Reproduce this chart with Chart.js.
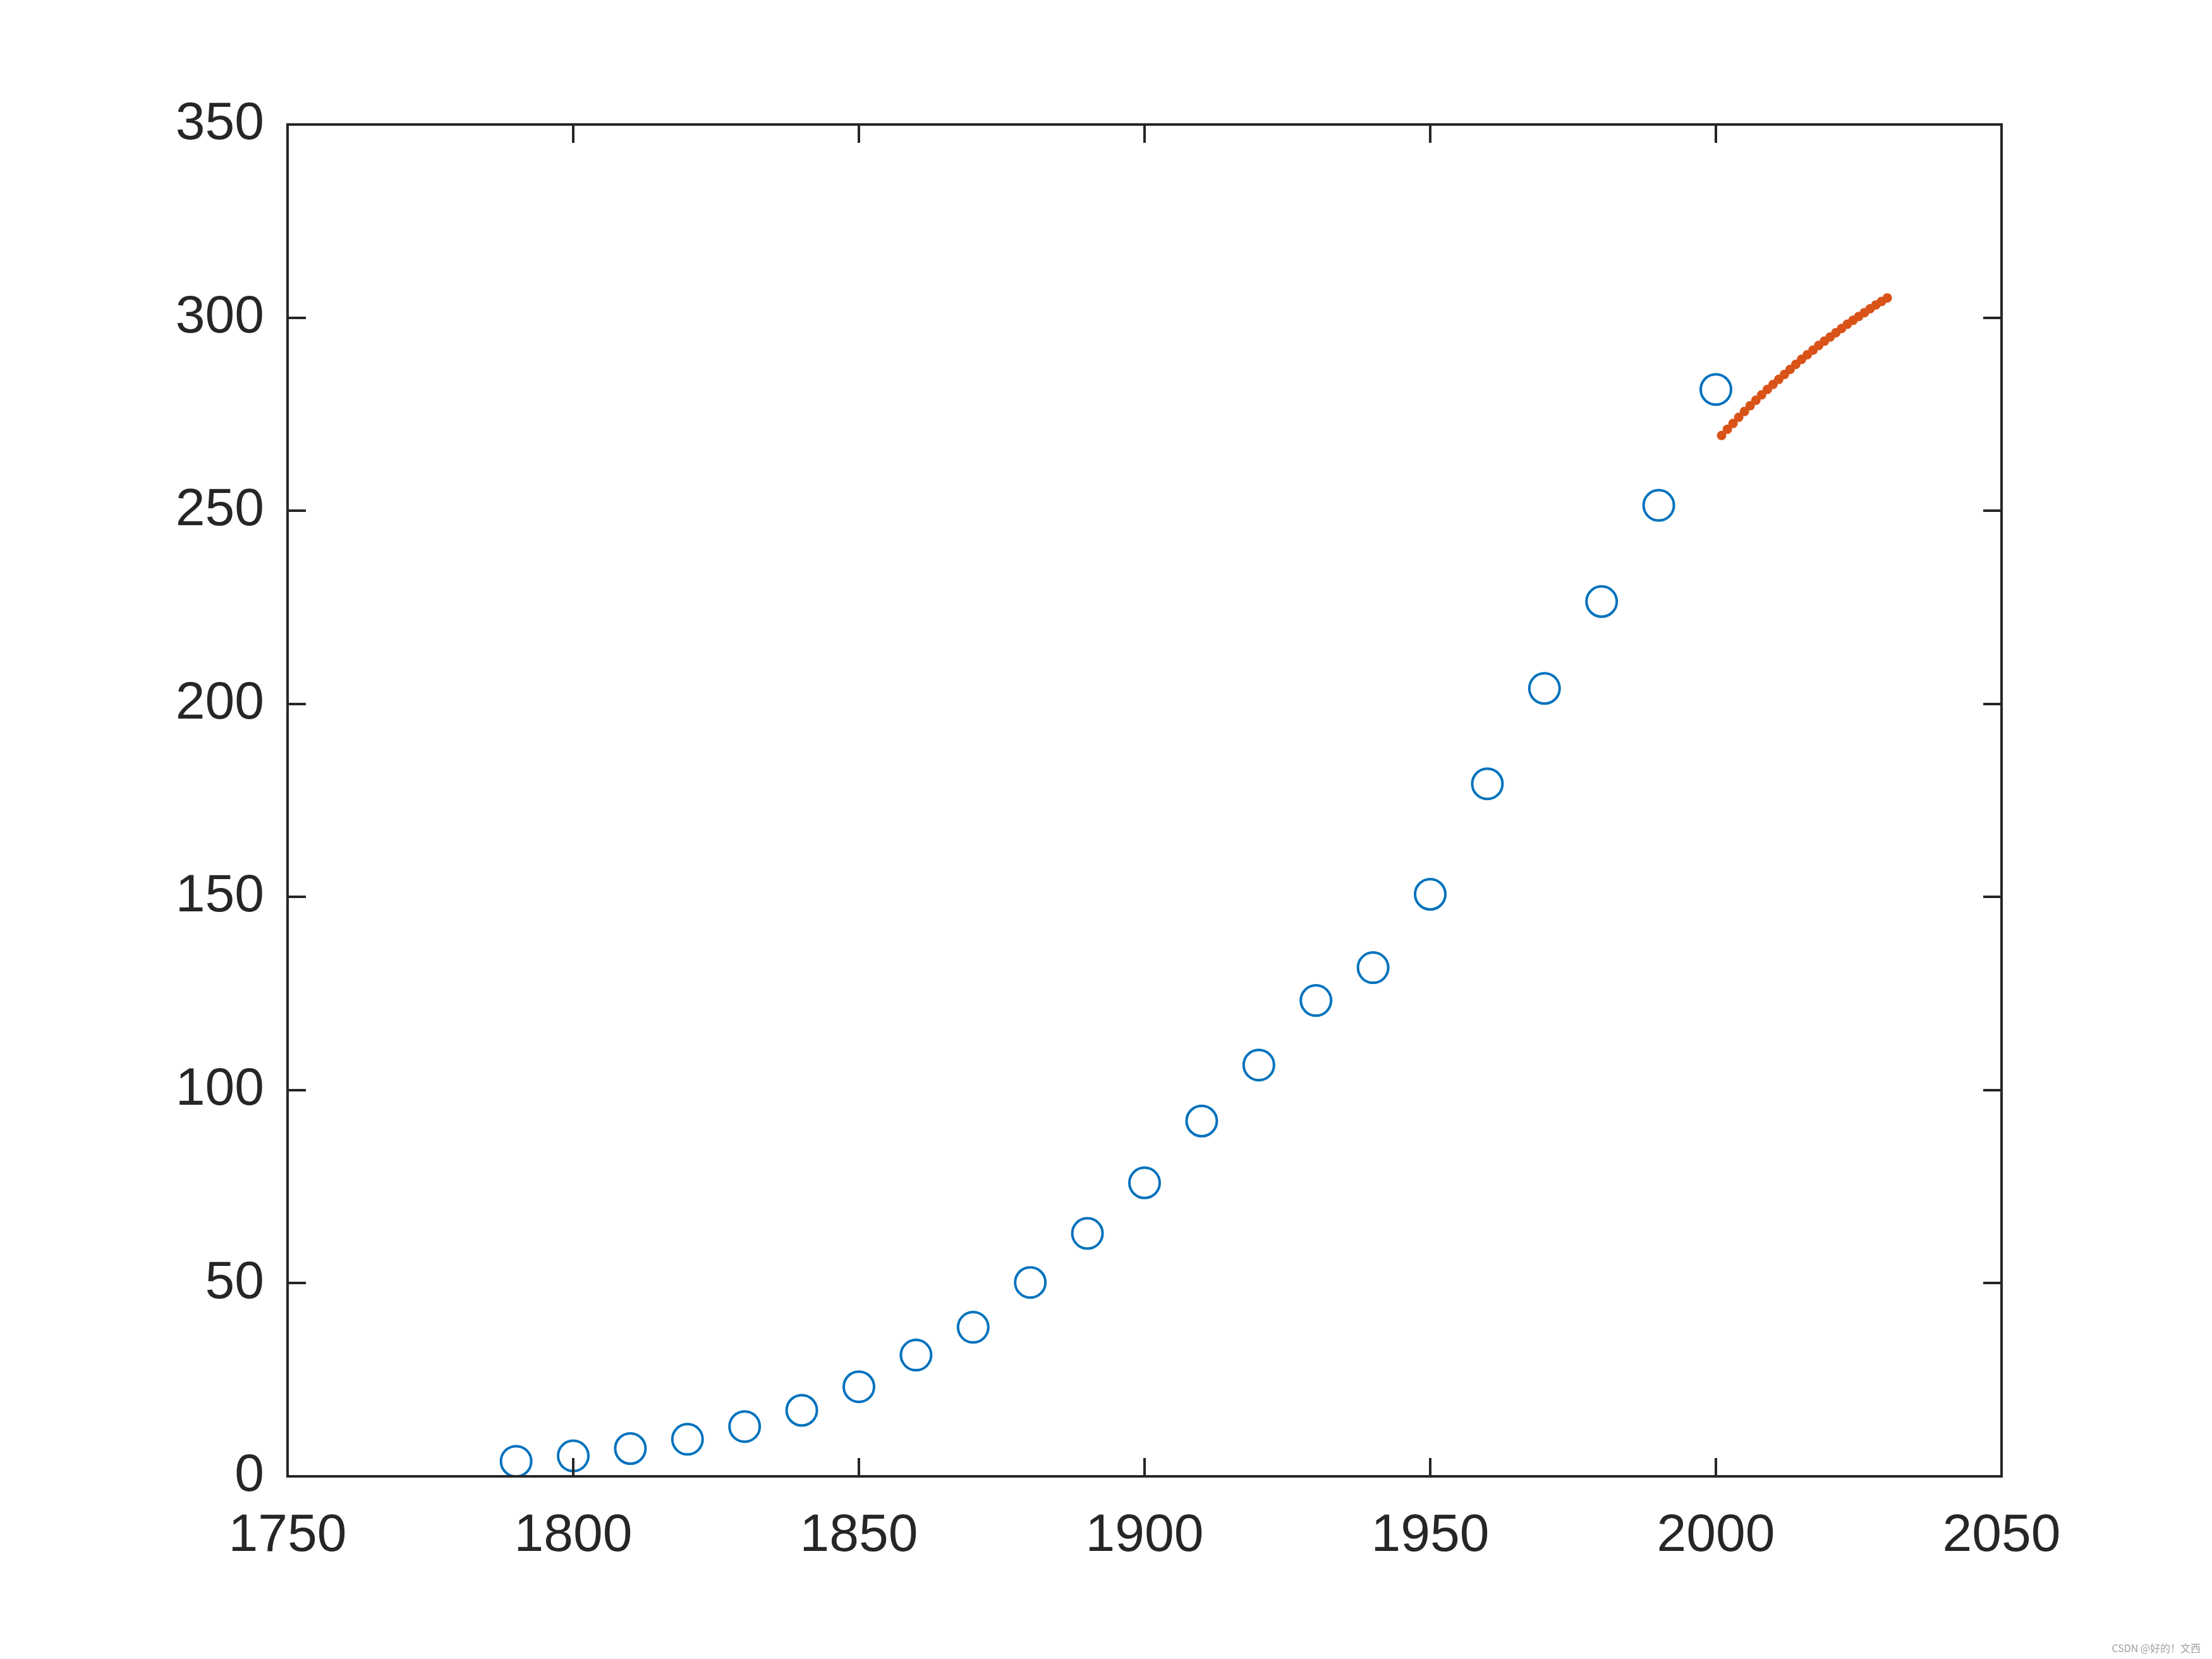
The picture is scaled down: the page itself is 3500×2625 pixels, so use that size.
<!DOCTYPE html>
<html>
<head>
<meta charset="utf-8">
<script src="https://cdn.jsdelivr.net/npm/chart.js@4"></script>
<style>
  html, body { margin: 0; padding: 0; background: #fff; }
  #wrap { position: relative; width: 3500px; height: 2625px; }
  #chart { display: block; }
  #mark {
    position: absolute; right: 18px; bottom: 6px;
    font: 16px "Noto Sans CJK SC", "Liberation Sans", sans-serif;
    color: #a0a0a0;
  }
</style>
</head>
<body>
<div id="wrap">
  <canvas id="chart" width="3500" height="2625"></canvas>
  <div id="mark">CSDN @好的！文西</div>
</div>
<script>
// --- Data ---
const censusYears = [1790, 1800, 1810, 1820, 1830, 1840, 1850, 1860, 1870, 1880, 1890,
  1900, 1910, 1920, 1930, 1940, 1950, 1960, 1970, 1980, 1990, 2000];
const population = [3.9, 5.3, 7.2, 9.6, 12.9, 17.1, 23.2, 31.4, 38.6, 50.2, 62.9,
  76.0, 92.0, 106.5, 123.2, 131.7, 150.7, 179.3, 204.0, 226.5, 251.4, 281.4];

const forecastYears = [2001, 2002, 2003, 2004, 2005, 2006, 2007, 2008, 2009, 2010,
  2011, 2012, 2013, 2014, 2015, 2016, 2017, 2018, 2019, 2020,
  2021, 2022, 2023, 2024, 2025, 2026, 2027, 2028, 2029, 2030];
const forecast = [269.5, 271.1, 272.6, 274.2, 275.7, 277.2, 278.6, 280.0, 281.4, 282.7,
  284.0, 285.3, 286.6, 287.9, 289.2, 290.4, 291.6, 292.8, 293.9, 295.0,
  296.1, 297.2, 298.3, 299.3, 300.3, 301.3, 302.3, 303.3, 304.2, 305.1];

const xTicks = [1750, 1800, 1850, 1900, 1950, 2000, 2050];
const yTicks = [0, 50, 100, 150, 200, 250, 300, 350];

const AXIS_COLOR = '#262626';
const FONT = { family: 'Arial, "Liberation Sans", Helvetica, sans-serif', size: 84 };

// MATLAB-style box with inward ticks on all four sides
const boxPlugin = {
  id: 'box',
  afterDatasetsDraw(chart) {
    const { ctx, chartArea: a, scales } = chart;
    const len = 29;
    ctx.save();
    ctx.strokeStyle = AXIS_COLOR;
    ctx.lineWidth = 4;
    ctx.lineCap = 'butt';
    ctx.beginPath();
    for (const v of xTicks) {
      const px = Math.round(scales.x.getPixelForValue(v));
      ctx.moveTo(px, a.bottom); ctx.lineTo(px, a.bottom - len);
      ctx.moveTo(px, a.top); ctx.lineTo(px, a.top + len);
    }
    for (const v of yTicks) {
      const py = Math.round(scales.y.getPixelForValue(v));
      ctx.moveTo(a.left, py); ctx.lineTo(a.left + len, py);
      ctx.moveTo(a.right, py); ctx.lineTo(a.right - len, py);
    }
    ctx.stroke();
    ctx.lineJoin = 'miter';
    ctx.strokeRect(a.left, a.top, a.right - a.left, a.bottom - a.top);
    ctx.restore();
  },
};

const ctx = document.getElementById('chart');

new Chart(ctx, {
  type: 'scatter',
  data: {
    datasets: [
      {
        label: 'census',
        data: censusYears.map((x, i) => ({ x, y: population[i] })),
        pointStyle: 'circle',
        pointRadius: 24,
        borderWidth: 4,
        borderColor: '#0072BD',
        backgroundColor: 'rgba(0,0,0,0)',
        showLine: false,
      },
      {
        label: 'forecast',
        data: forecastYears.map((x, i) => ({ x, y: forecast[i] })),
        pointStyle: 'circle',
        pointRadius: 7.5,
        borderWidth: 0,
        backgroundColor: '#D95319',
        borderColor: '#D95319',
        showLine: false,
      },
    ],
  },
  options: {
    responsive: false,
    animation: false,
    devicePixelRatio: 1,
    layout: { padding: { left: 0, right: 333, top: 197, bottom: 0 } },
    plugins: {
      legend: { display: false },
      tooltip: { enabled: false },
    },
    scales: {
      x: {
        type: 'linear',
        min: 1750,
        max: 2050,
        afterFit: (s) => { s.height = 289; },
        afterBuildTicks: (s) => { s.ticks = xTicks.map(v => ({ value: v })); },
        grid: { display: false, drawTicks: false },
        border: { display: false },
        ticks: { font: FONT, color: AXIS_COLOR, padding: 44, maxRotation: 0,
          callback: (v) => String(v) },
      },
      y: {
        type: 'linear',
        min: 0,
        max: 350,
        afterFit: (s) => { s.width = 455; },
        afterBuildTicks: (s) => { s.ticks = yTicks.map(v => ({ value: v })); },
        grid: { display: false, drawTicks: false },
        border: { display: false },
        ticks: { font: FONT, color: AXIS_COLOR, padding: 37,
          callback: (v) => String(v) },
      },
    },
  },
  plugins: [boxPlugin],
});
</script>
</body>
</html>
